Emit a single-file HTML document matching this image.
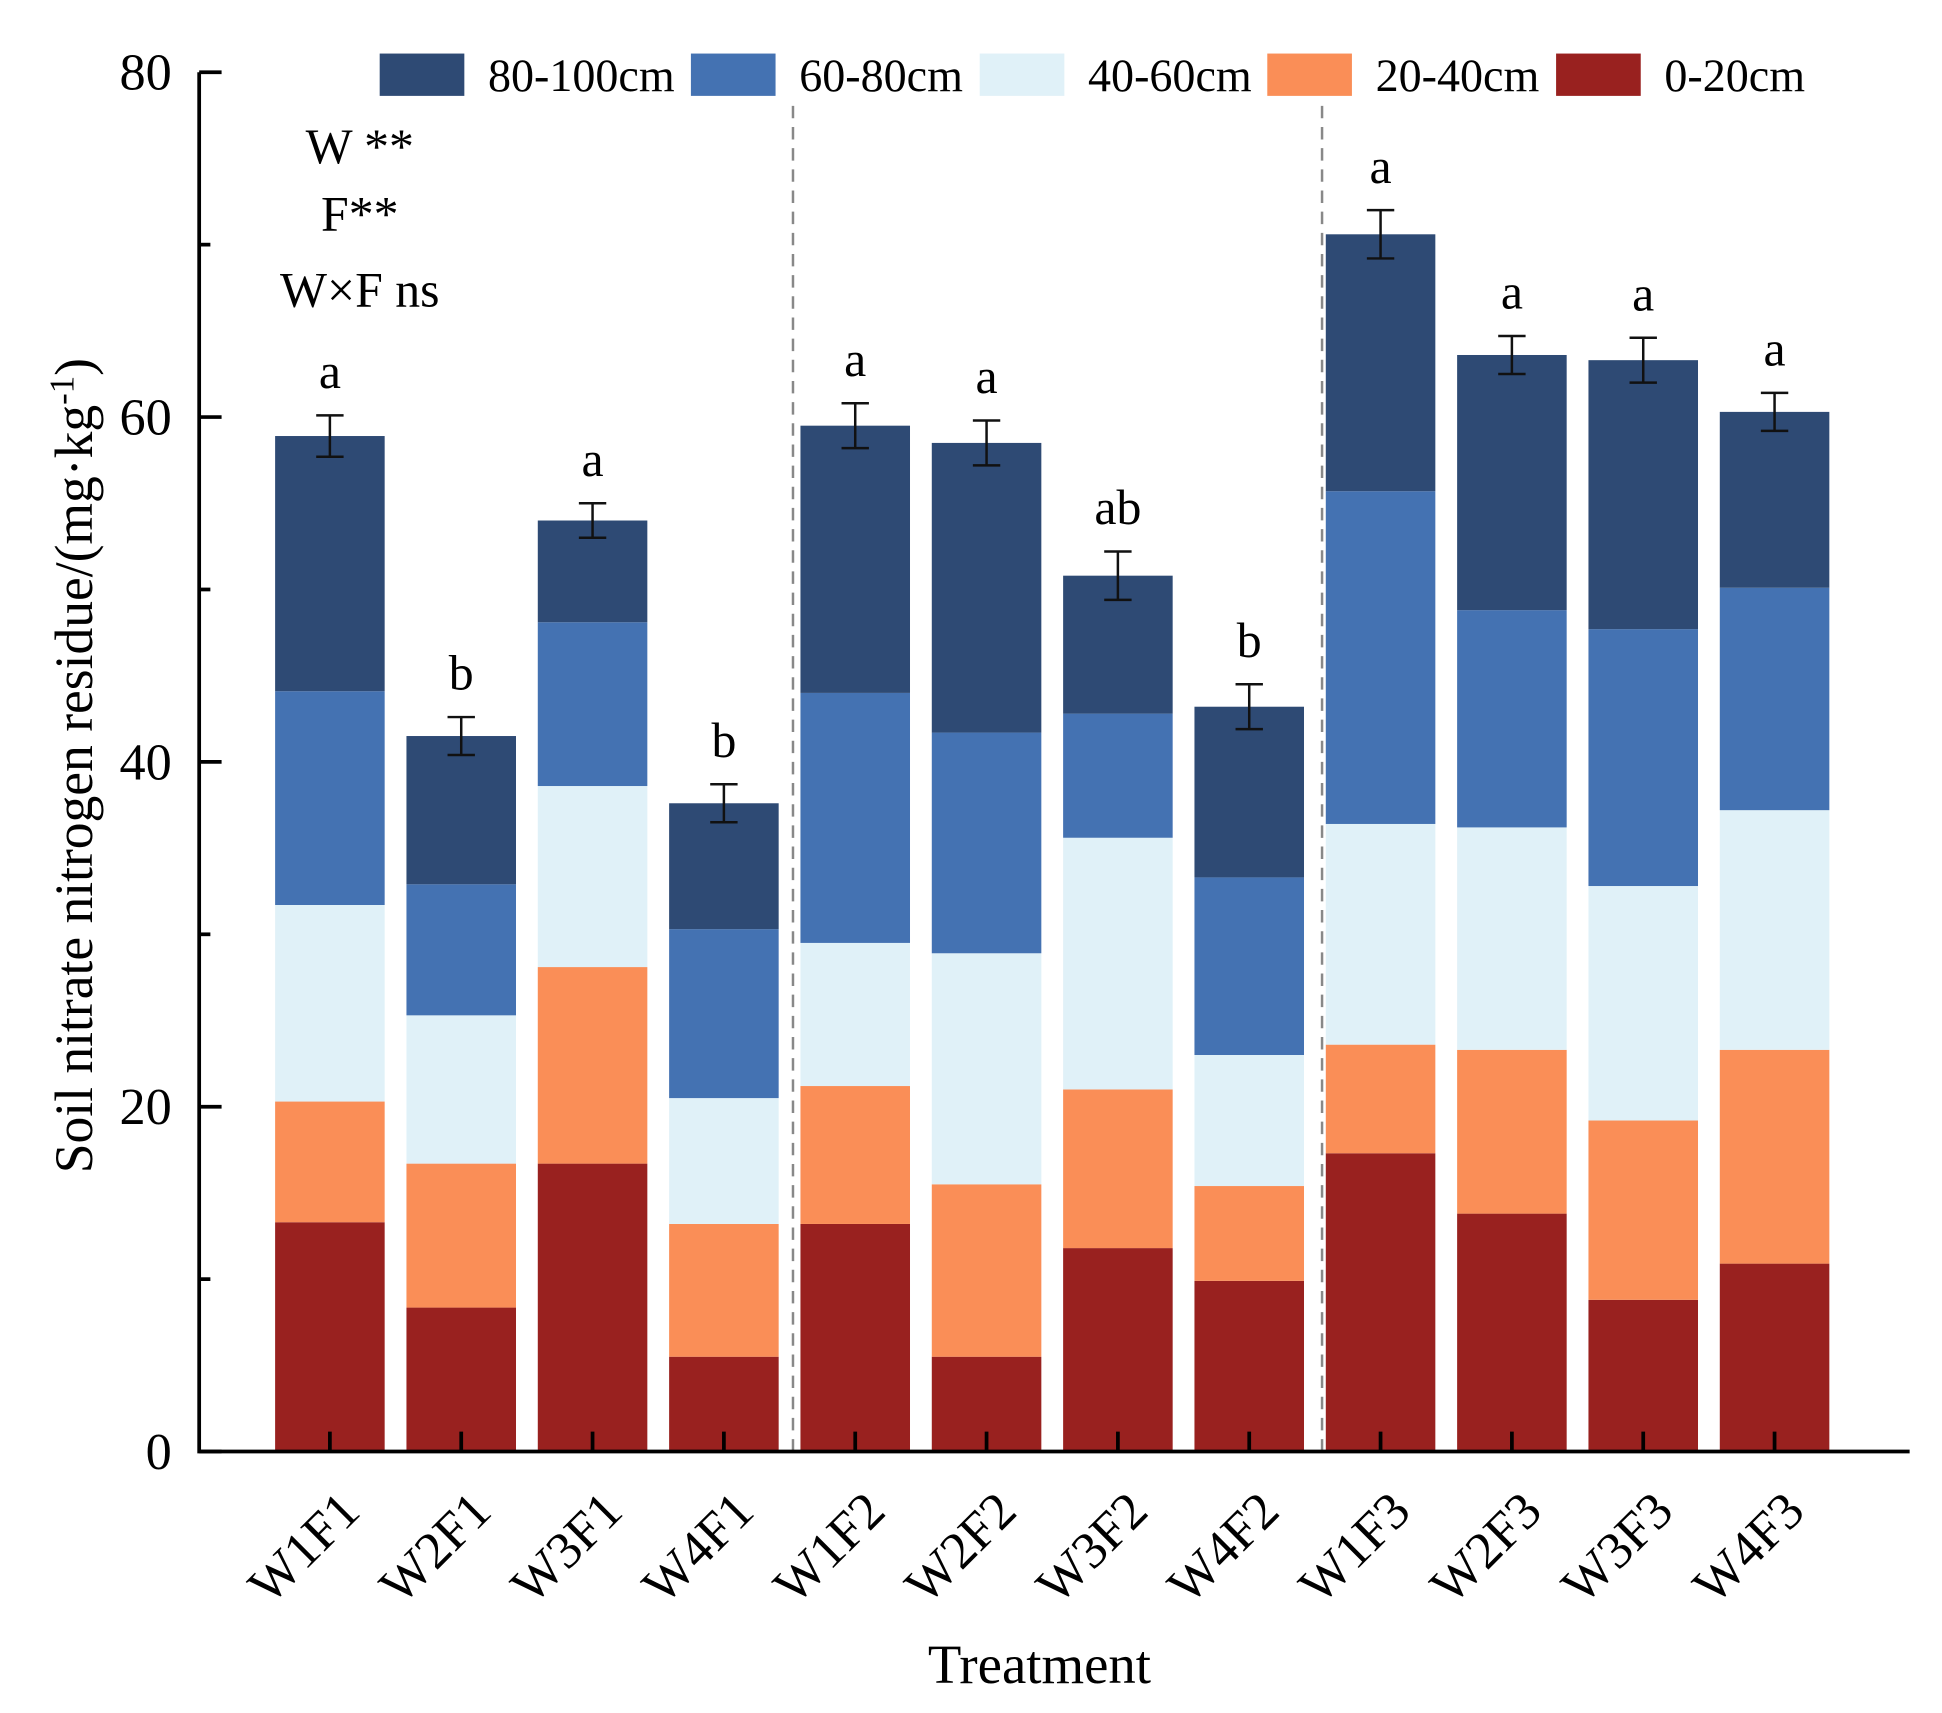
<!DOCTYPE html>
<html><head><meta charset="utf-8"><style>
html,body{margin:0;padding:0;background:#fff;}
svg{display:block;font-family:"Liberation Serif",serif;}
</style></head><body>
<svg id="chart" width="1942" height="1713" viewBox="0 0 1560 1376" xmlns="http://www.w3.org/2000/svg"></svg>
<script>
const categories=["W1F1","W2F1","W3F1","W4F1","W1F2","W2F2","W3F2","W4F2","W1F3","W2F3","W3F3","W4F3"];
const layerNames=["0-20cm","20-40cm","40-60cm","60-80cm","80-100cm"];
const layer0_20=[13.3,8.35,16.7,5.5,13.2,5.5,11.8,9.9,17.3,13.8,8.8,10.9];
const layer20_40=[7.0,8.35,11.4,7.7,8.0,10.0,9.2,5.5,6.3,9.5,10.4,12.4];
const layer40_60=[11.4,8.6,10.5,7.3,8.3,13.4,14.6,7.6,12.8,12.9,13.6,13.9];
const layer60_80=[12.4,7.6,9.5,9.8,14.5,12.8,7.2,10.3,19.3,12.6,14.9,12.9];
const layer80_100=[14.8,8.6,5.9,7.3,15.5,16.8,8.0,9.9,14.9,14.8,15.6,10.2];
const errors=[1.2,1.1,1.0,1.1,1.3,1.3,1.4,1.3,1.4,1.1,1.3,1.1];
const sigLetters=["a","b","a","b","a","a","ab","b","a","a","a","a"];
const yTicks=[0,20,40,60,80];
const colors=["#99211f","#fa8e57","#e0f1f8","#4472b2","#2e4a74"];
const layers=[layer0_20,layer20_40,layer40_60,layer60_80,layer80_100];

const svg=document.getElementById('chart');
const NS="http://www.w3.org/2000/svg";
const X0=160,XR=1534,Y0=1166,Y80=58;
const y=v=>Y0-(v/80)*(Y0-Y80);
const xc=i=>265+i*105.5;
const BW=88;
function mk(tag,attrs,parent){const e=document.createElementNS(NS,tag);for(const k in attrs)e.setAttribute(k,attrs[k]);(parent||svg).appendChild(e);return e;}

categories.forEach((c,i)=>{
  const g=mk('g',{});
  
  
  let cum=0;
  layers.forEach((arr,k)=>{
    const v=arr[i];
    const r=mk('rect',{x:xc(i)-BW/2,y:y(cum+v),width:BW,height:y(cum)-y(cum+v),fill:colors[k]},g);
    
    
    cum+=v;
  });
  const e=errors[i];
  const eg=mk('path',{d:`M${xc(i)} ${y(cum+e)}V${y(cum-e)}M${xc(i)-11} ${y(cum+e)}H${xc(i)+11}M${xc(i)-11} ${y(cum-e)}H${xc(i)+11}`,stroke:'#111','stroke-width':2,fill:'none'},g);
  
  
  const t=mk('text',{x:xc(i),y:y(cum+e)-22,'text-anchor':'middle','font-size':40},g);
  t.textContent=sigLetters[i];
  
  
});

[637,1062].forEach((dx,j)=>{
  const l=mk('line',{x1:dx,x2:dx,y1:85,y2:Y0,stroke:'#888','stroke-width':2,'stroke-dasharray':'10 7'});
  
  
});

const ax=mk('path',{d:`M${X0} ${Y80}V${Y0}H${XR}`,stroke:'#000','stroke-width':3,fill:'none'});


yTicks.forEach(v=>{
  mk('line',{x1:X0,x2:X0+18,y1:y(v),y2:y(v),stroke:'#000','stroke-width':3});
  if(v<80)mk('line',{x1:X0,x2:X0+9,y1:y(v+10),y2:y(v+10),stroke:'#000','stroke-width':3});
  const t=mk('text',{x:X0-22,y:y(v)+14,'text-anchor':'end','font-size':42});
  t.textContent=v;
  
  
});
categories.forEach((c,i)=>{
  mk('line',{x1:xc(i),x2:xc(i),y1:Y0,y2:Y0-16,stroke:'#000','stroke-width':3});
  const t=mk('text',{x:xc(i)+26,y:1216,'text-anchor':'end','font-size':42,transform:`rotate(-45 ${xc(i)+26} 1216)`});
  t.textContent=c;
  
  
});
const xt=mk('text',{x:835,y:1352,'text-anchor':'middle','font-size':44});
xt.textContent='Treatment';


const yt=mk('text',{x:74,y:615,'text-anchor':'middle','font-size':43,transform:'rotate(-90 74 615)'});
yt.innerHTML='Soil nitrate nitrogen residue/(mg·kg<tspan dy="-15" font-size="28">-1</tspan><tspan dy="15">)</tspan>';



[["W **",131],["F**",185],["W×F ns",246]].forEach((a,j)=>{
  const t=mk('text',{x:289,y:a[1],'text-anchor':'middle','font-size':40});
  t.textContent=a[0];
  
  
});

const legOrder=[4,3,2,1,0];
const legX=[305,555,787,1018,1250];
legOrder.forEach((k,j)=>{
  const g=mk('g',{});
  
  
  mk('rect',{x:legX[j],y:43,width:68,height:34,fill:colors[k]},g);
  const t=mk('text',{x:legX[j]+87,y:73,'font-size':37},g);
  t.textContent=layerNames[k];
});
</script>
</body></html>
